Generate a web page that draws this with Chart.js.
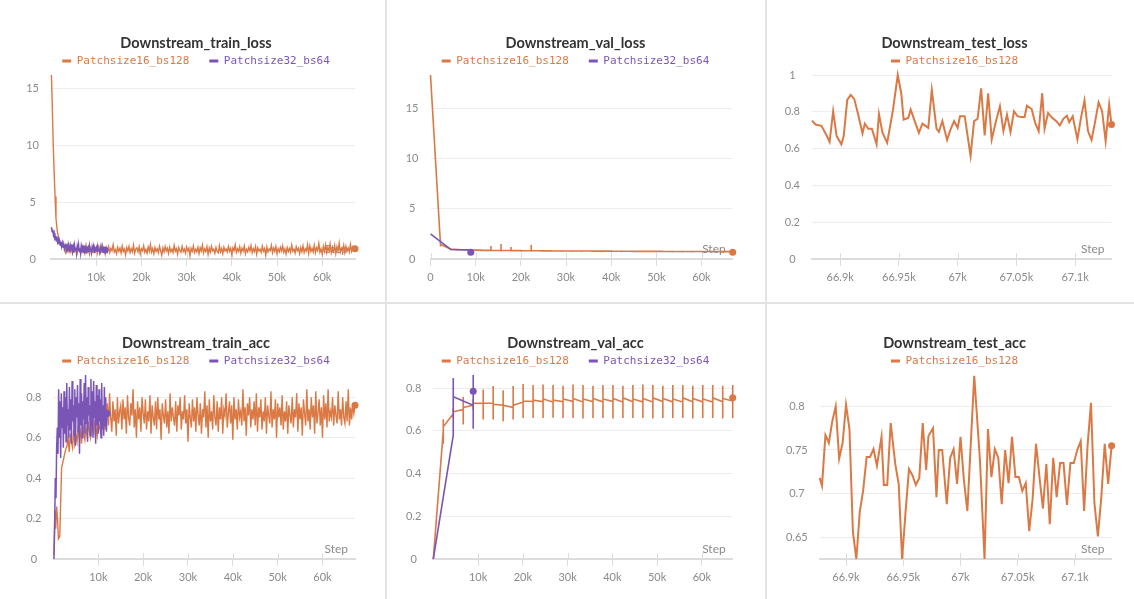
<!DOCTYPE html>
<html>
<head>
<meta charset="utf-8">
<script src="https://cdn.jsdelivr.net/npm/chart.js@4.4.1/dist/chart.umd.min.js"></script>
<style>
  body { margin: 0; background: #fff; width: 1134px; height: 599px; overflow: hidden; position: relative; }
  canvas { position: absolute; }
  .sep { position: absolute; background: #e3e3e3; }
</style>
</head>
<body>
<div class="sep" style="left:385px;top:0;width:2px;height:599px"></div>
<div class="sep" style="left:765px;top:0;width:2px;height:599px"></div>
<div class="sep" style="left:0;top:302px;width:1134px;height:2px"></div>

<canvas id="trainLoss" width="378" height="300" style="left:7px;top:0"></canvas>
<canvas id="valLoss" width="379" height="300" style="left:386px;top:0"></canvas>
<canvas id="testLoss" width="377" height="300" style="left:766px;top:0"></canvas>
<canvas id="trainAcc" width="378" height="300" style="left:7px;top:300px"></canvas>
<canvas id="valAcc" width="379" height="300" style="left:386px;top:300px"></canvas>
<canvas id="testAcc" width="377" height="300" style="left:766px;top:300px"></canvas>

<script>
const ORANGE = "#db7945";
const PURPLE = "#7b55b6";
const RUN_A = "Patchsize16_bs128";
const RUN_B = "Patchsize32_bs64";

// ---- train (steps in k) ----
const trainStepsA = [0.1, 0.3, 0.5, 0.7, 0.9, 1.1, 1.4, 1.8, 2.3, 2.7,
  3, 3.25, 3.5, 3.75, 4, 4.25, 4.5, 4.75,
  5, 5.25, 5.5, 5.75, 6, 6.25, 6.5, 6.75,
  7, 7.25, 7.5, 7.75, 8, 8.25, 8.5, 8.75,
  9, 9.25, 9.5, 9.75, 10, 10.25, 10.5, 10.75,
  11, 11.25, 11.5, 11.75, 12, 12.25, 12.5, 12.75,
  13, 13.25, 13.5, 13.75, 14, 14.25, 14.5, 14.75,
  15, 15.25, 15.5, 15.75, 16, 16.25, 16.5, 16.75,
  17, 17.25, 17.5, 17.75, 18, 18.25, 18.5, 18.75,
  19, 19.25, 19.5, 19.75, 20, 20.25, 20.5, 20.75,
  21, 21.25, 21.5, 21.75, 22, 22.25, 22.5, 22.75,
  23, 23.25, 23.5, 23.75, 24, 24.25, 24.5, 24.75,
  25, 25.25, 25.5, 25.75, 26, 26.25, 26.5, 26.75,
  27, 27.25, 27.5, 27.75, 28, 28.25, 28.5, 28.75,
  29, 29.25, 29.5, 29.75, 30, 30.25, 30.5, 30.75,
  31, 31.25, 31.5, 31.75, 32, 32.25, 32.5, 32.75,
  33, 33.25, 33.5, 33.75, 34, 34.25, 34.5, 34.75,
  35, 35.25, 35.5, 35.75, 36, 36.25, 36.5, 36.75,
  37, 37.25, 37.5, 37.75, 38, 38.25, 38.5, 38.75,
  39, 39.25, 39.5, 39.75, 40, 40.25, 40.5, 40.75,
  41, 41.25, 41.5, 41.75, 42, 42.25, 42.5, 42.75,
  43, 43.25, 43.5, 43.75, 44, 44.25, 44.5, 44.75,
  45, 45.25, 45.5, 45.75, 46, 46.25, 46.5, 46.75,
  47, 47.25, 47.5, 47.75, 48, 48.25, 48.5, 48.75,
  49, 49.25, 49.5, 49.75, 50, 50.25, 50.5, 50.75,
  51, 51.25, 51.5, 51.75, 52, 52.25, 52.5, 52.75,
  53, 53.25, 53.5, 53.75, 54, 54.25, 54.5, 54.75,
  55, 55.25, 55.5, 55.75, 56, 56.25, 56.5, 56.75,
  57, 57.25, 57.5, 57.75, 58, 58.25, 58.5, 58.75,
  59, 59.25, 59.5, 59.75, 60, 60.25, 60.5, 60.75,
  61, 61.25, 61.5, 61.75, 62, 62.25, 62.5, 62.75,
  63, 63.25, 63.5, 63.75, 64, 64.25, 64.5, 64.75,
  65, 65.25, 65.5, 65.75, 66, 66.25, 66.5, 66.75,
  67, 67.25];

const trainLossA = [16.2, 13.2, 10, 7.6, 5.5, 3.6, 2.4, 1.7, 1.3, 1.1,
  1.02, 0.58, 0.95, 0.66, 1.15, 0.62, 0.88, 0.52,
  1.08, 0.70, 0.92, 0.48, 1.05, 0.73, 0.60, 1.12,
  0.68, 0.97, 0.55, 1.20, 0.64, 0.90, 0.45, 1.00,
  0.75, 0.58, 1.10, 0.66, 0.94, 0.50, 1.06, 0.72,
  0.60, 1.18, 0.70, 0.86, 0.42, 0.99, 0.64, 1.08,
  0.56, 0.93, 0.74, 1.25, 0.61, 0.83, 0.47, 1.03,
  0.69, 0.96, 0.53, 1.14, 0.66, 0.88, 0.38, 1.01,
  0.72, 1.10, 0.57, 0.91, 0.63, 1.22, 0.50, 0.87,
  0.98, 0.62, 1.07, 0.44, 0.90, 0.71, 1.16, 0.59,
  0.84, 0.52, 1.04, 0.68, 1.28, 0.60, 0.92, 0.46,
  1.00, 0.66, 0.89, 0.55, 1.13, 0.73, 0.35, 0.97,
  0.62, 1.09, 0.70, 0.94, 0.49, 1.05, 0.64, 0.86,
  0.58, 1.19, 0.69, 0.91, 0.43, 1.02, 0.75, 0.60,
  1.11, 0.65, 0.87, 0.51, 1.06, 0.72, 0.95, 0.30,
  0.93, 0.67, 1.15, 0.57, 0.85, 0.63, 1.03, 0.48,
  0.99, 0.70, 1.21, 0.54, 0.89, 0.66, 1.08, 0.41,
  0.94, 0.61, 1.12, 0.73, 0.86, 0.50, 1.01, 0.68,
  0.55, 1.17, 0.64, 0.92, 0.46, 1.04, 0.71, 0.88,
  0.62, 1.10, 0.69, 0.96, 0.38, 0.99, 0.74, 1.24,
  0.58, 0.90, 0.66, 1.07, 0.52, 0.94, 0.70, 1.14,
  0.47, 0.87, 0.63, 1.02, 0.72, 1.19, 0.56, 0.91,
  0.65, 1.09, 0.44, 0.97, 0.70, 0.85, 0.59, 1.13,
  0.68, 0.92, 0.34, 1.05, 0.62, 0.88, 0.74, 1.20,
  0.55, 0.96, 0.67, 1.11, 0.50, 0.90, 0.63, 1.03,
  0.71, 1.16, 0.58, 0.89, 0.45, 1.00, 0.66, 0.93,
  0.60, 1.22, 0.69, 0.86, 0.53, 1.07, 0.73, 0.95,
  0.48, 1.01, 0.64, 1.14, 0.57, 0.90, 0.70, 1.26,
  0.50, 1.15, 0.66, 0.93, 0.62, 1.21, 0.57, 0.99,
  0.74, 1.36, 0.61, 0.89, 0.45, 1.10, 0.68, 1.25,
  0.58, 1.02, 0.72, 1.32, 0.55, 0.95, 0.66, 1.18,
  0.49, 1.08, 0.70, 1.40, 0.60, 0.92, 0.64, 1.20,
  0.57, 1.12, 0.73, 0.98, 0.62, 1.28, 0.69, 1.05,
  0.84, 0.91];

const trainAccA = [0.02, 0.24, 0.15, 0.26, 0.2, 0.1, 0.11, 0.45, 0.5, 0.54,
  0.56, 0.60, 0.53, 0.62, 0.58, 0.55, 0.64, 0.57,
  0.61, 0.58, 0.66, 0.60, 0.63, 0.57, 0.67, 0.62,
  0.59, 0.65, 0.61, 0.68, 0.63, 0.60, 0.66, 0.64,
  0.62, 0.69, 0.64, 0.61, 0.70, 0.65, 0.63, 0.68,
  0.66, 0.71, 0.64, 0.69, 0.77, 0.66, 0.82, 0.70,
  0.63, 0.78, 0.68, 0.74, 0.61, 0.80, 0.67, 0.73,
  0.76, 0.64, 0.79, 0.69, 0.75, 0.62, 0.81, 0.70,
  0.66, 0.77, 0.71, 0.84, 0.65, 0.74, 0.60, 0.78,
  0.69, 0.75, 0.63, 0.80, 0.72, 0.67, 0.79, 0.64,
  0.73, 0.68, 0.81, 0.62, 0.76, 0.70, 0.66, 0.78,
  0.64, 0.80, 0.69, 0.74, 0.59, 0.77, 0.71, 0.67,
  0.79, 0.65, 0.73, 0.62, 0.82, 0.68, 0.75, 0.70,
  0.66, 0.78, 0.63, 0.76, 0.71, 0.80, 0.64, 0.73,
  0.69, 0.81, 0.67, 0.74, 0.58, 0.77, 0.70, 0.65,
  0.79, 0.68, 0.75, 0.63, 0.80, 0.71, 0.66, 0.77,
  0.62, 0.74, 0.70, 0.83, 0.65, 0.76, 0.60, 0.79,
  0.68, 0.73, 0.64, 0.81, 0.70, 0.66, 0.78, 0.63,
  0.75, 0.69, 0.80, 0.62, 0.74, 0.71, 0.82, 0.65,
  0.72, 0.78, 0.67, 0.76, 0.59, 0.80, 0.69, 0.74,
  0.64, 0.79, 0.70, 0.73, 0.66, 0.84, 0.68, 0.75,
  0.61, 0.77, 0.71, 0.80, 0.65, 0.74, 0.69, 0.78,
  0.66, 0.82, 0.63, 0.75, 0.70, 0.79, 0.64, 0.73,
  0.68, 0.80, 0.62, 0.76, 0.71, 0.67, 0.83, 0.65,
  0.74, 0.69, 0.79, 0.60, 0.77, 0.70, 0.75, 0.66,
  0.81, 0.64, 0.73, 0.68, 0.78, 0.62, 0.76, 0.71,
  0.67, 0.80, 0.65, 0.74, 0.70, 0.82, 0.63, 0.77,
  0.69, 0.75, 0.61, 0.79, 0.72, 0.66, 0.84, 0.68,
  0.74, 0.64, 0.80, 0.70, 0.76, 0.62, 0.83, 0.67,
  0.72, 0.79, 0.66, 0.75, 0.60, 0.81, 0.69, 0.77,
  0.65, 0.84, 0.68, 0.73, 0.70, 0.80, 0.66, 0.76,
  0.71, 0.67, 0.83, 0.69, 0.74, 0.66, 0.80, 0.70,
  0.67, 0.78, 0.68, 0.84, 0.66, 0.75, 0.69, 0.77,
  0.72, 0.76];

const trainStepsB = [0.1, 0.25, 0.4, 0.55, 0.7, 0.85,
  1.0, 1.15, 1.3, 1.45, 1.6, 1.75, 1.9, 2.05, 2.2, 2.35,
  2.5, 2.65, 2.8, 2.95, 3.1, 3.25, 3.4, 3.55, 3.7, 3.85,
  4.0, 4.15, 4.3, 4.45, 4.6, 4.75, 4.9, 5.05, 5.2, 5.35,
  5.5, 5.65, 5.8, 5.95, 6.1, 6.25, 6.4, 6.55, 6.7, 6.85,
  7.0, 7.15, 7.3, 7.45, 7.6, 7.75, 7.9, 8.05, 8.2, 8.35,
  8.5, 8.65, 8.8, 8.95, 9.1, 9.25, 9.4, 9.55, 9.7, 9.85,
  10.0, 10.15, 10.3, 10.45, 10.6, 10.75, 10.9, 11.05, 11.2, 11.35,
  11.5, 11.65, 11.8, 11.95];

const trainLossB = [2.8, 2.4, 2.6, 2.1, 2.3, 1.8,
  1.9, 1.6, 2.0, 1.5, 1.7, 1.3, 1.6, 1.2, 1.5, 1.1,
  1.4, 1.0, 1.3, 0.9, 1.2, 1.35, 0.8, 1.1, 0.7, 1.25,
  0.95, 0.6, 1.15, 0.85, 1.3, 0.7, 1.05, 0.55, 1.2, 0.8,
  1.0, 0.5, 1.1, 0.75, 1.25, 0.65, 0.95, 0.5, 1.15, 0.85,
  1.05, 0.6, 1.2, 0.7, 0.95, 0.55, 1.1, 0.8, 1.0, 0.6,
  1.15, 0.7, 0.9, 0.55, 1.05, 0.75, 1.1, 0.6, 0.95, 0.8,
  1.0, 0.65, 1.1, 0.7, 0.9, 0.6, 1.05, 0.75, 0.95, 0.7,
  1.0, 0.75, 0.85, 0.8];

const trainAccB = [0.0, 0.15, 0.40, 0.30, 0.55, 0.65,
  0.52, 0.84, 0.60, 0.78, 0.50, 0.82, 0.65, 0.75, 0.55, 0.83,
  0.62, 0.80, 0.58, 0.87, 0.66, 0.74, 0.60, 0.85, 0.64, 0.79,
  0.57, 0.88, 0.68, 0.76, 0.61, 0.84, 0.56, 0.80, 0.70, 0.86,
  0.63, 0.77, 0.52, 0.89, 0.66, 0.82, 0.60, 0.78, 0.69, 0.87,
  0.62, 0.91, 0.67, 0.80, 0.58, 0.85, 0.71, 0.76, 0.61, 0.89,
  0.65, 0.83, 0.60, 0.88, 0.70, 0.78, 0.57, 0.86, 0.66, 0.81,
  0.62, 0.84, 0.68, 0.79, 0.60, 0.87, 0.64, 0.76, 0.61, 0.85,
  0.66, 0.80, 0.63, 0.72];

// ---- validation (steps in k; several values logged per step) ----
const valStepsA = [0, 2.23, 4.46, 6.69, 8.92, 11.15, 13.38, 15.61, 17.84, 20.07, 22.3,
  24.53, 26.76, 28.99, 31.22, 33.45, 35.68, 37.91, 40.14, 42.37, 44.6,
  46.83, 49.06, 51.29, 53.52, 55.75, 57.98, 60.21, 62.44, 64.67, 66.9];
const valLossArriveA = [18.3, 1.3, 1.0, 0.93, 0.9, 0.88, 0.86, 0.85, 0.84, 0.83, 0.82,
  0.82, 0.81, 0.8, 0.8, 0.79, 0.79, 0.78, 0.78, 0.77, 0.77,
  0.76, 0.76, 0.76, 0.75, 0.75, 0.75, 0.74, 0.74, 0.74, 0.73];
const valLossHighA = [18.3, 1.5, 1.05, 1.0, 0.96, 0.95, 1.3, 1.5, 1.2, 0.92, 1.42,
  0.9, 0.9, 0.88, 0.88, 0.87, 0.87, 0.86, 0.86, 0.85, 0.85,
  0.84, 0.84, 0.84, 0.83, 0.83, 0.83, 0.82, 0.82, 0.82, 0.81];
const valLossLowA = [18.3, 1.25, 0.95, 0.85, 0.8, 0.78, 0.76, 0.75, 0.74, 0.73, 0.72,
  0.72, 0.71, 0.7, 0.7, 0.69, 0.69, 0.68, 0.68, 0.67, 0.67,
  0.66, 0.66, 0.66, 0.65, 0.65, 0.65, 0.64, 0.64, 0.64, 0.63];
const valLossLeaveA = [18.3, 1.45, 0.98, 0.92, 0.89, 0.87, 0.86, 0.85, 0.84, 0.83, 0.82,
  0.81, 0.81, 0.8, 0.79, 0.79, 0.78, 0.78, 0.77, 0.77, 0.76,
  0.76, 0.76, 0.75, 0.75, 0.75, 0.74, 0.74, 0.74, 0.73, 0.68];

const valStepsB = [0, 4.46, 8.92];
const valLossArriveB = [2.5, 0.95, 0.9];
const valLossHighB = [2.5, 1.0, 0.92];
const valLossLowB = [2.5, 0.92, 0.65];
const valLossLeaveB = [2.5, 0.95, 0.66];

const valAccArriveA = [0, 0.60, 0.68, 0.70, 0.72, 0.73, 0.73, 0.72, 0.71, 0.735, 0.738,
  0.737, 0.735, 0.737, 0.738, 0.735, 0.737, 0.736, 0.738, 0.735, 0.737,
  0.736, 0.735, 0.738, 0.736, 0.735, 0.737, 0.736, 0.735, 0.737, 0.74];
const valAccHighA = [0, 0.655, 0.71, 0.76, 0.75, 0.794, 0.81, 0.79, 0.81, 0.82, 0.815,
  0.818, 0.815, 0.812, 0.818, 0.815, 0.812, 0.815, 0.815, 0.812, 0.815,
  0.818, 0.815, 0.812, 0.815, 0.815, 0.812, 0.815, 0.815, 0.812, 0.815];
const valAccLowA = [0, 0.54, 0.66, 0.63, 0.70, 0.654, 0.654, 0.645, 0.654, 0.66, 0.66,
  0.66, 0.662, 0.66, 0.66, 0.658, 0.66, 0.66, 0.658, 0.66, 0.66,
  0.66, 0.658, 0.66, 0.66, 0.66, 0.658, 0.66, 0.66, 0.658, 0.66];
const valAccLeaveA = [0, 0.62, 0.69, 0.71, 0.73, 0.73, 0.725, 0.72, 0.72, 0.74, 0.745,
  0.75, 0.745, 0.75, 0.752, 0.75, 0.752, 0.75, 0.752, 0.755, 0.75,
  0.752, 0.755, 0.752, 0.75, 0.755, 0.752, 0.75, 0.755, 0.752, 0.755];

const valAccArriveB = [0, 0.58, 0.72];
const valAccHighB = [0, 0.848, 0.862];
const valAccLowB = [0, 0.58, 0.61];
const valAccLeaveB = [0, 0.76, 0.786];

// ---- test (raw steps) ----
const testLossSteps = [66876, 66879, 66884, 66888, 66891, 66894, 66897, 66901, 66903, 66906,
  66909, 66912, 66915, 66919, 66921, 66924, 66927, 66931, 66933, 66936,
  66940, 66945, 66949, 66952, 66954, 66958, 66960, 66964, 66967, 66970,
  66975, 66978, 66982, 66984, 66987, 66991, 66994, 66997, 67000, 67002,
  67006, 67011, 67014, 67017, 67020, 67023, 67026, 67029, 67033, 67036,
  67039, 67042, 67045, 67048, 67051, 67054, 67057, 67059, 67063, 67066,
  67069, 67072, 67074, 67077, 67080, 67084, 67087, 67090, 67093, 67095,
  67098, 67102, 67105, 67108, 67111, 67114, 67117, 67120, 67123, 67126,
  67129, 67131];
const testLoss = [0.752, 0.731, 0.724, 0.677, 0.636, 0.803, 0.668, 0.623, 0.668, 0.865,
  0.892, 0.869, 0.794, 0.683, 0.736, 0.708, 0.708, 0.623, 0.788, 0.686,
  0.632, 0.812, 1.0, 0.901, 0.758, 0.767, 0.812, 0.740, 0.686, 0.736,
  0.713, 0.919, 0.708, 0.691, 0.749, 0.647, 0.704, 0.749, 0.713, 0.776,
  0.776, 0.56, 0.749, 0.762, 0.928, 0.672, 0.901, 0.650, 0.758, 0.830,
  0.695, 0.785, 0.690, 0.803, 0.776, 0.772, 0.772, 0.833, 0.815, 0.740,
  0.695, 0.901, 0.708, 0.794, 0.770, 0.749, 0.726, 0.762, 0.779, 0.744,
  0.776, 0.650, 0.767, 0.862, 0.695, 0.647, 0.744, 0.851, 0.803, 0.641,
  0.839, 0.731];

const testAccSteps = [66877, 66879, 66882, 66885, 66888, 66891, 66894, 66897, 66900, 66903,
  66906, 66909, 66912, 66915, 66918, 66921, 66924, 66927, 66931, 66933,
  66936, 66939, 66943, 66946, 66949, 66952, 66955, 66958, 66961, 66964,
  66967, 66970, 66972, 66976, 66979, 66981, 66984, 66988, 66991, 66994,
  66997, 67000, 67003, 67006,
  67012, 67017, 67021, 67024, 67027, 67030, 67033, 67036, 67039, 67042,
  67045, 67048, 67051, 67054, 67057, 67060, 67063, 67066, 67069, 67072,
  67075, 67078, 67081, 67084, 67087, 67090, 67093, 67096, 67099, 67102,
  67105, 67108, 67111, 67114, 67117, 67120, 67123, 67126, 67129, 67132];
const testAcc = [0.718, 0.709, 0.767, 0.758, 0.783, 0.800, 0.740, 0.758, 0.802, 0.774,
  0.656, 0.625, 0.679, 0.704, 0.742, 0.742, 0.751, 0.732, 0.765, 0.710,
  0.710, 0.781, 0.734, 0.711, 0.625, 0.679, 0.728, 0.721, 0.710, 0.718,
  0.781, 0.727, 0.766, 0.775, 0.696, 0.750, 0.750, 0.688, 0.741, 0.751,
  0.711, 0.765, 0.715, 0.680,
  0.835, 0.738, 0.625, 0.774, 0.719, 0.751, 0.741, 0.688, 0.750, 0.712,
  0.765, 0.719, 0.719, 0.703, 0.712, 0.657, 0.694, 0.757, 0.719, 0.683,
  0.734, 0.665, 0.741, 0.696, 0.735, 0.735, 0.687, 0.735, 0.735, 0.750,
  0.760, 0.680, 0.755, 0.804, 0.689, 0.651, 0.696, 0.757, 0.711, 0.755];

// ---- axis ticks ----
const kTicks = [10, 20, 30, 40, 50, 60];
const kTicksZero = [0, 10, 20, 30, 40, 50, 60];
const testTicks = [66900, 66950, 67000, 67050, 67100];
const lossTicks = [0, 5, 10, 15];
const testLossTicks = [0, 0.2, 0.4, 0.6, 0.8, 1];
const accTicks = [0, 0.2, 0.4, 0.6, 0.8];
const testAccTicks = [0.65, 0.7, 0.75, 0.8];

const toPoints = (xs, ys) => xs.map((x, i) => ({ x: x, y: ys[i] }));
const toStackPoints = (xs, arrive, high, low, leave) =>
  xs.flatMap((x, i) => [
    { x: x, y: arrive[i] }, { x: x, y: high[i] }, { x: x, y: low[i] }, { x: x, y: leave[i] },
  ]);

const kLabel = (v) => (v === 0 ? "0" : v + "k");
const stepLabel = (v) => v / 1000 + "k";

function series(label, color, points, order, width) {
  return {
    label: label,
    data: points,
    borderColor: color,
    backgroundColor: color,
    borderWidth: width,
    order: order,
    tension: 0,
    clip: false,
    pointBorderWidth: 0,
    pointHoverRadius: 0,
    pointRadius: (c) => (c.dataIndex === points.length - 1 ? 3.5 : 0),
  };
}

// "Step" caption and the short tick marks above the x axis line
const stepCaption = {
  id: "stepCaption",
  beforeDatasetsDraw(chart) {
    const { ctx, chartArea: a, scales } = chart;
    const x = scales.x;
    ctx.save();
    ctx.strokeStyle = "#dcdcdc";
    ctx.lineWidth = 1;
    x.ticks.forEach((t, i) => {
      const px = Math.round(x.getPixelForTick(i)) + 0.5;
      ctx.beginPath();
      ctx.moveTo(px, a.bottom - 6);
      ctx.lineTo(px, a.bottom);
      ctx.stroke();
    });
    ctx.fillStyle = "#8a8a8a";
    ctx.font = "12px Lato";
    ctx.textAlign = "right";
    ctx.textBaseline = "middle";
    ctx.fillText("Step", a.right - 7, a.bottom - 10);
    ctx.restore();
  },
};

function makeChart(id, opts) {
  const tickFont = { family: "Lato", size: 11 };
  return new Chart(id, {
    type: "line",
    data: { datasets: opts.datasets },
    plugins: [stepCaption],
    options: {
      responsive: false,
      animation: false,
      devicePixelRatio: 1,
      layout: { padding: { left: 0, right: 0, top: 0, bottom: 1 } },
      plugins: {
        tooltip: { enabled: false },
        title: {
          display: true,
          text: opts.title,
          color: "#333333",
          font: { family: "Lato", size: 14.5, weight: "bold" },
          padding: { top: 34.3, bottom: -16.2 },
        },
        legend: {
          display: true,
          position: "top",
          maxHeight: 39.5,
          labels: {
            boxWidth: 9,
            boxHeight: 3,
            padding: 20,
            font: { family: "DejaVu Sans Mono", size: 11 },
            sort: (a, b) => a.datasetIndex - b.datasetIndex,
            generateLabels: (chart) =>
              chart.data.datasets.map((d, i) => ({
                text: d.label,
                fillStyle: d.borderColor,
                strokeStyle: d.borderColor,
                fontColor: d.borderColor,
                lineWidth: 0,
                hidden: false,
                datasetIndex: i,
              })),
          },
        },
      },
      scales: {
        x: {
          type: "linear",
          min: opts.xMin,
          max: opts.xMax,
          afterBuildTicks: (s) => { s.ticks = opts.xTicks.map((v) => ({ value: v })); },
          afterFit: (s) => { s.height = 40; },
          ticks: { callback: opts.xLabel, color: "#8a8a8a", font: tickFont, padding: 5, maxRotation: 0, autoSkip: false },
          grid: { drawOnChartArea: false, drawTicks: true, tickLength: 7, color: "#dcdcdc" },
          border: { display: true, color: "#dcdcdc", width: 2 },
        },
        y: {
          min: opts.yMin,
          max: opts.yMax,
          afterBuildTicks: (s) => { s.ticks = opts.yTicks.map((v) => ({ value: v })); },
          afterFit: (s) => { s.width = opts.yWidth; },
          ticks: { callback: (v) => String(v), color: "#8a8a8a", font: tickFont, padding: 12, crossAlign: "center" },
          grid: { color: "#ededed", drawTicks: false },
          border: { display: false },
        },
        // empty right-hand margin so the title and legend stay centred on the panel
        side: {
          position: "right",
          afterFit: (s) => { s.width = opts.rightGap; },
          ticks: { display: false },
          grid: { display: false, drawTicks: false },
          border: { display: false },
        },
      },
    },
  });
}

makeChart("trainLoss", {
  title: "Downstream_train_loss",
  datasets: [
    series(RUN_A, ORANGE, toPoints(trainStepsA, trainLossA), 1, 1.4),
    series(RUN_B, PURPLE, toPoints(trainStepsB, trainLossB), 0, 1.5),
  ],
  xMin: 0, xMax: 67.25, xTicks: kTicks, xLabel: kLabel,
  yMin: 0, yMax: 16.2, yTicks: lossTicks, yWidth: 44, rightGap: 30,
});

makeChart("valLoss", {
  title: "Downstream_val_loss",
  datasets: [
    series(RUN_A, ORANGE, toStackPoints(valStepsA, valLossArriveA, valLossHighA, valLossLowA, valLossLeaveA), 1, 1.6),
    series(RUN_B, PURPLE, toStackPoints(valStepsB, valLossArriveB, valLossHighB, valLossLowB, valLossLeaveB), 0, 1.6),
  ],
  xMin: 0, xMax: 66.9, xTicks: kTicksZero, xLabel: kLabel,
  yMin: 0, yMax: 18.3, yTicks: lossTicks, yWidth: 44.5, rightGap: 32.3,
});

makeChart("testLoss", {
  title: "Downstream_test_loss",
  datasets: [series(RUN_A, ORANGE, toPoints(testLossSteps, testLoss), 0, 2)],
  xMin: 66876, xMax: 67131, xTicks: testTicks, xLabel: stepLabel,
  yMin: 0, yMax: 1, yTicks: testLossTicks, yWidth: 46, rightGap: 31.5,
});

makeChart("trainAcc", {
  title: "Downstream_train_acc",
  datasets: [
    series(RUN_A, ORANGE, toPoints(trainStepsA, trainAccA), 1, 1.4),
    series(RUN_B, PURPLE, toPoints(trainStepsB, trainAccB), 0, 1.5),
  ],
  xMin: 0, xMax: 67.25, xTicks: kTicks, xLabel: kLabel,
  yMin: 0, yMax: 0.91, yTicks: accTicks, yWidth: 46.5, rightGap: 30,
});

makeChart("valAcc", {
  title: "Downstream_val_acc",
  datasets: [
    series(RUN_A, ORANGE, toStackPoints(valStepsA, valAccArriveA, valAccHighA, valAccLowA, valAccLeaveA), 1, 1.6),
    series(RUN_B, PURPLE, toStackPoints(valStepsB, valAccArriveB, valAccHighB, valAccLowB, valAccLeaveB), 0, 1.6),
  ],
  xMin: 0, xMax: 66.9, xTicks: kTicks, xLabel: kLabel,
  yMin: 0, yMax: 0.862, yTicks: accTicks, yWidth: 47.3, rightGap: 32.3,
});

makeChart("testAcc", {
  title: "Downstream_test_acc",
  datasets: [series(RUN_A, ORANGE, toPoints(testAccSteps, testAcc), 0, 2)],
  xMin: 66877, xMax: 67132, xTicks: testTicks, xLabel: stepLabel,
  yMin: 0.625, yMax: 0.836, yTicks: testAccTicks, yWidth: 53.7, rightGap: 31.4,
});
</script>
</body>
</html>
